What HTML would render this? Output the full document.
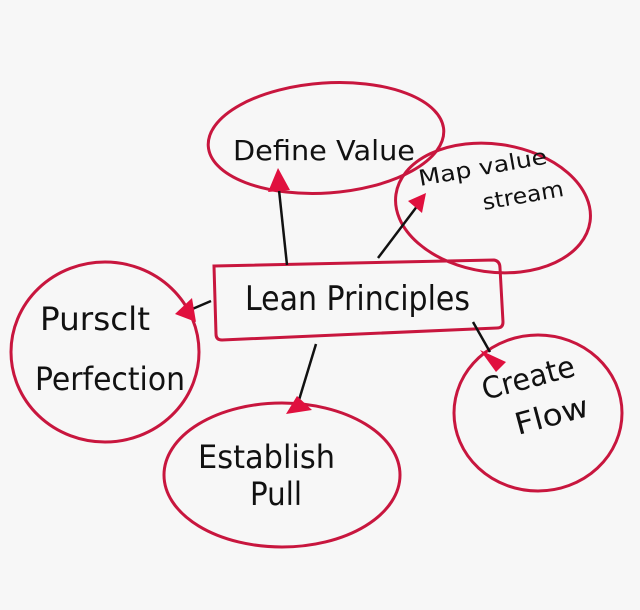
<!DOCTYPE html>
<html><head><style>
html,body{margin:0;padding:0;background:#f7f7f7;}
svg{display:block}
text{font-family:"DejaVu Sans","Liberation Sans",sans-serif;fill:#111;}
</style></head><body>
<svg width="640" height="610" viewBox="0 0 640 610">
<g fill="none" stroke="#c8163e" stroke-width="3">
<ellipse cx="326" cy="138" rx="118" ry="55" transform="rotate(-4 326 138)"/>
<ellipse cx="493" cy="208" rx="98" ry="64" transform="rotate(8 493 208)"/>
<ellipse cx="105" cy="352" rx="94" ry="90"/>
<ellipse cx="282" cy="475" rx="118" ry="72"/>
<ellipse cx="538" cy="413" rx="84" ry="78"/>
<path d="M214 266 L494 260 Q500 261 500 268 L503 322 Q503 328 497 328 L222 340 Q216 340 216 334 Z"/>
</g>
<g stroke="#111" stroke-width="2.5">
<line x1="287" y1="265" x2="279" y2="190"/>
<line x1="378" y1="258" x2="418" y2="205"/>
<line x1="211" y1="301" x2="190" y2="310"/>
<line x1="316" y1="344" x2="299" y2="400"/>
<line x1="473" y1="322" x2="490" y2="352"/>
</g>
<g fill="#e0103e">
<polygon points="278,168 268,192 290,190"/>
<polygon points="426,193 408,201 422,213"/>
<polygon points="175,314 192,298 196,322"/>
<polygon points="297,396 286,414 312,410"/>
<polygon points="506,362 480,350 496,372"/>
</g>
<text x="233" y="160" font-size="28" textLength="182" lengthAdjust="spacingAndGlyphs">Define Value</text>
<text x="420" y="186" font-size="22" transform="rotate(-10 420 186)" textLength="130" lengthAdjust="spacingAndGlyphs">Map value</text>
<text x="484" y="210" font-size="22" transform="rotate(-10 484 210)" textLength="82" lengthAdjust="spacingAndGlyphs">stream</text>
<text x="245" y="310" font-size="34" textLength="225" lengthAdjust="spacingAndGlyphs">Lean Principles</text>
<text x="40" y="330" font-size="32" textLength="110" lengthAdjust="spacingAndGlyphs">Pursclt</text>
<text x="35" y="390" font-size="32" textLength="150" lengthAdjust="spacingAndGlyphs">Perfection</text>
<text x="198" y="468" font-size="32" textLength="137" lengthAdjust="spacingAndGlyphs">Establish</text>
<text x="250" y="505" font-size="32" textLength="52" lengthAdjust="spacingAndGlyphs">Pull</text>
<text x="485" y="400" font-size="30" transform="rotate(-15 485 400)" textLength="95" lengthAdjust="spacingAndGlyphs">Create</text>
<text x="518" y="435" font-size="30" transform="rotate(-15 518 435)" textLength="75" lengthAdjust="spacingAndGlyphs">Flow</text>
</svg>
</body></html>
